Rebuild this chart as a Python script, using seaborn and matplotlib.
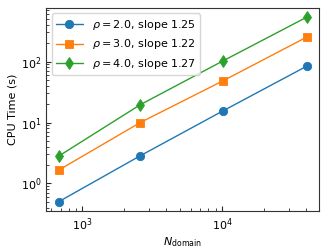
import numpy as np
import pandas as pd
import matplotlib
matplotlib.use('Agg')
import matplotlib.pyplot as plt
import seaborn as sns

n_domain = [676, 2601, 10201, 40401]
rhos = ['2.0', '3.0', '4.0']
slopes = ['1.25', '1.22', '1.27']
cpu_rho2 = [0.50, 2.85, 15.6, 84.0]
cpu_rho3 = [1.65, 10.0, 48.5, 252.0]
cpu_rho4 = [2.80, 19.6, 103.0, 535.0]

labels = [r'$\rho = %s$, slope %s' % (r, s) for r, s in zip(rhos, slopes)]
df = pd.DataFrame({
	'N': n_domain * 3,
	'cpu': cpu_rho2 + cpu_rho3 + cpu_rho4,
	'case': [labels[0]] * 4 + [labels[1]] * 4 + [labels[2]] * 4,
})

sns.set_style('ticks')
plt.rcParams['font.family'] = ['DejaVu Sans']
plt.rcParams['xtick.direction'] = 'in'
plt.rcParams['ytick.direction'] = 'in'
plt.rcParams['text.color'] = 'black'
plt.rcParams['axes.labelcolor'] = 'black'
plt.rcParams['xtick.labelcolor'] = 'black'
plt.rcParams['ytick.labelcolor'] = 'black'

fig, ax = plt.subplots(figsize = (3.27, 2.48), dpi = 100)
sns.lineplot(data = df, x = 'N', y = 'cpu', hue = 'case', style = 'case',
	markers = {labels[0]: 'o', labels[1]: 's', labels[2]: 'd'},
	dashes = False, palette = ['#1f77b4', '#ff7f0e', '#2ca02c'],
	markersize = 6, markeredgecolor = None, markeredgewidth = 0.6,
	linewidth = 1, ax = ax)
ax.set_xscale('log')
ax.set_yscale('log')
ax.margins(0.05)
ax.set_xlabel(r'$N_{\mathrm{domain}}$', fontsize = 8, labelpad = 2)
ax.set_ylabel('CPU Time (s)', fontsize = 8, labelpad = 2)
ax.tick_params(labelsize = 8)
ax.tick_params(which = 'both', direction = 'in')
for sp in ax.spines.values():
	sp.set_color('#333333')
leg = ax.legend(loc = 'upper left', fontsize = 8, handlelength = 2.4)
leg.set_title(None)

fig.subplots_adjust(left = 0.141, right = 0.976, top = 0.968, bottom = 0.149)
fig.savefig('out.png', dpi = 100)
